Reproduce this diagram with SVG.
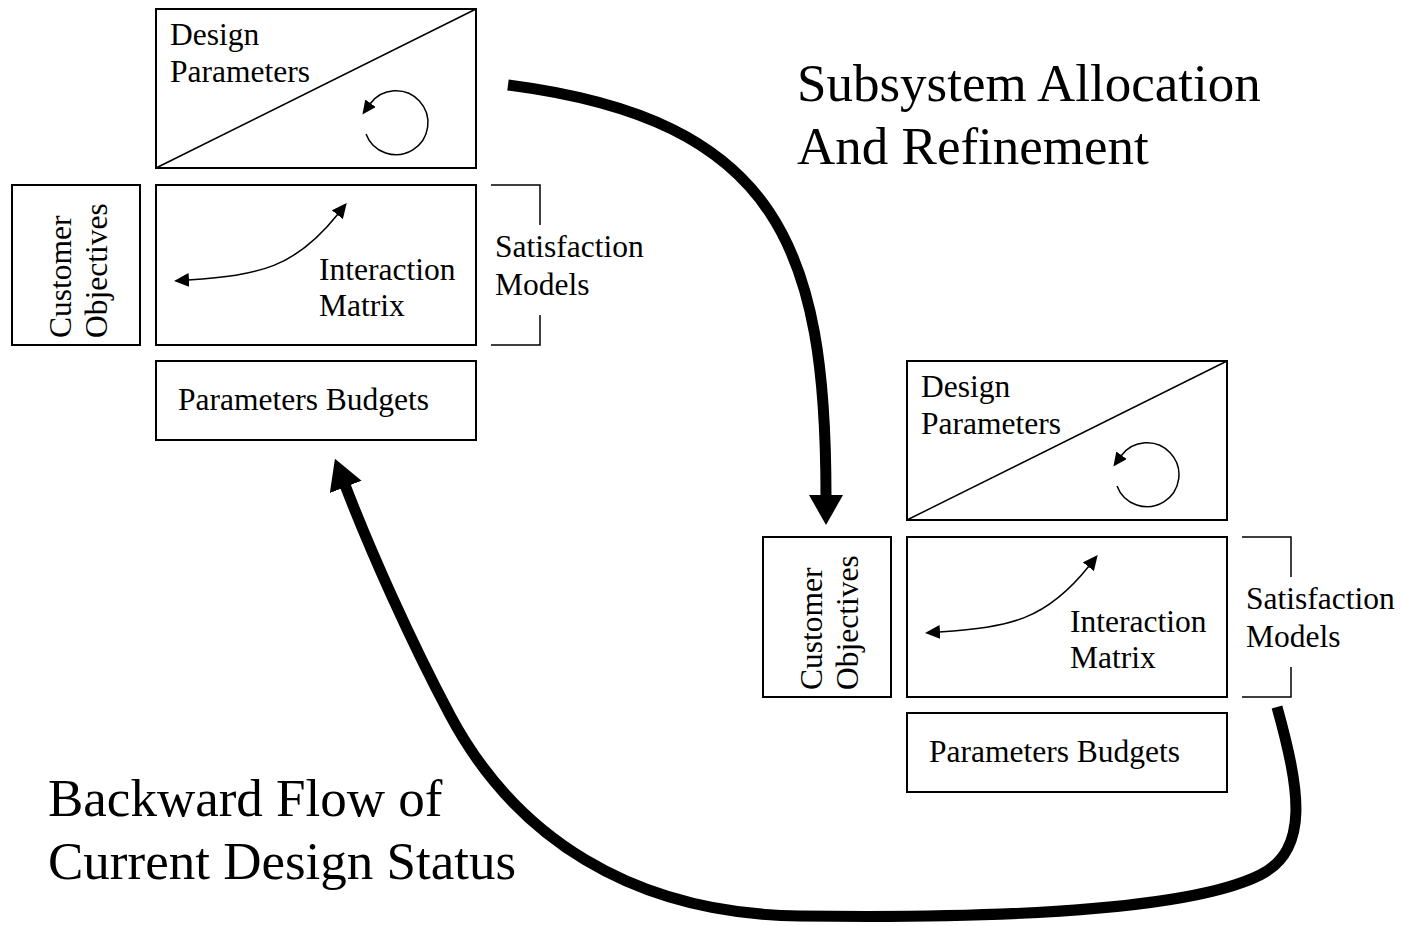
<svg xmlns="http://www.w3.org/2000/svg" width="1403" height="926" viewBox="0 0 1403 926">
<style>
.box{fill:none;stroke:#000;stroke-width:2}
.thin{fill:none;stroke:#000;stroke-width:1.5}
.t{font-family:"Liberation Serif","Times New Roman",serif;font-size:31.5px;fill:#000}
.big{font-family:"Liberation Serif","Times New Roman",serif;font-size:53px;fill:#000}
.flow{fill:none;stroke:#000;stroke-width:11}
</style>
<defs>
<marker id="ahBig" markerUnits="userSpaceOnUse" markerWidth="32" markerHeight="36" refX="2" refY="17" orient="auto"><path d="M0,0 L30,17 L0,34 z" fill="#000"/></marker>
<marker id="ahSm" markerUnits="userSpaceOnUse" markerWidth="17" markerHeight="15" refX="1" refY="7" orient="auto-start-reverse"><path d="M0,0 L15,7 L0,14 z" fill="#000"/></marker>
<marker id="ahLoop" markerUnits="userSpaceOnUse" markerWidth="16" markerHeight="14" refX="1" refY="6.5" orient="auto"><path d="M0,0 L14,6.5 L0,13 z" fill="#000"/></marker>
<g id="unit">
<rect class="box" x="156" y="9" width="320" height="159"/>
<line class="thin" x1="156" y1="168" x2="476" y2="9"/>
<text class="t" x="170" y="45">Design</text>
<text class="t" x="170" y="82">Parameters</text>
<path class="thin" d="M366,134 A32,32 0 1 0 370,104" marker-end="url(#ahLoop)"/>
<rect class="box" x="12" y="185" width="128" height="160"/>
<text class="t" transform="translate(71,338) rotate(-90)"><tspan x="0" y="0">Customer</tspan><tspan x="0" y="36">Objectives</tspan></text>
<rect class="box" x="156" y="185" width="320" height="160"/>
<path class="thin" d="M188,280 C260,275 295,268 338,214" marker-start="url(#ahSm)" marker-end="url(#ahSm)"/>
<text class="t" x="319" y="280">Interaction</text>
<text class="t" x="319" y="316">Matrix</text>
<path class="thin" d="M491,185 H540 V225 M540,315 V345 H491"/>
<text class="t" x="495" y="257">Satisfaction</text>
<text class="t" x="495" y="295">Models</text>
<rect class="box" x="156" y="361" width="320" height="79"/>
<text class="t" x="178" y="410">Parameters Budgets</text>
</g>
</defs>
<g id="system-level"><use href="#unit"/></g>
<g id="subsystem-level"><use href="#unit" transform="translate(751,352)"/></g>
<g id="labels">
<text class="big" x="797" y="101">Subsystem Allocation</text>
<text class="big" x="797" y="164">And Refinement</text>
<text class="big" x="48" y="816">Backward Flow of</text>
<text class="big" x="48" y="879">Current Design Status</text>
</g>
<g id="connectors">
<path class="flow" d="M508,85 C780,120 826,250 826,497" marker-end="url(#ahBig)"/>
<path class="flow" d="M1277,707 C1300,790 1310,850 1260,875 C1180,915 950,918 800,916 C630,914 514,835 450,715 C410,640 370,550 345,485" marker-end="url(#ahBig)"/>
</g>
</svg>
